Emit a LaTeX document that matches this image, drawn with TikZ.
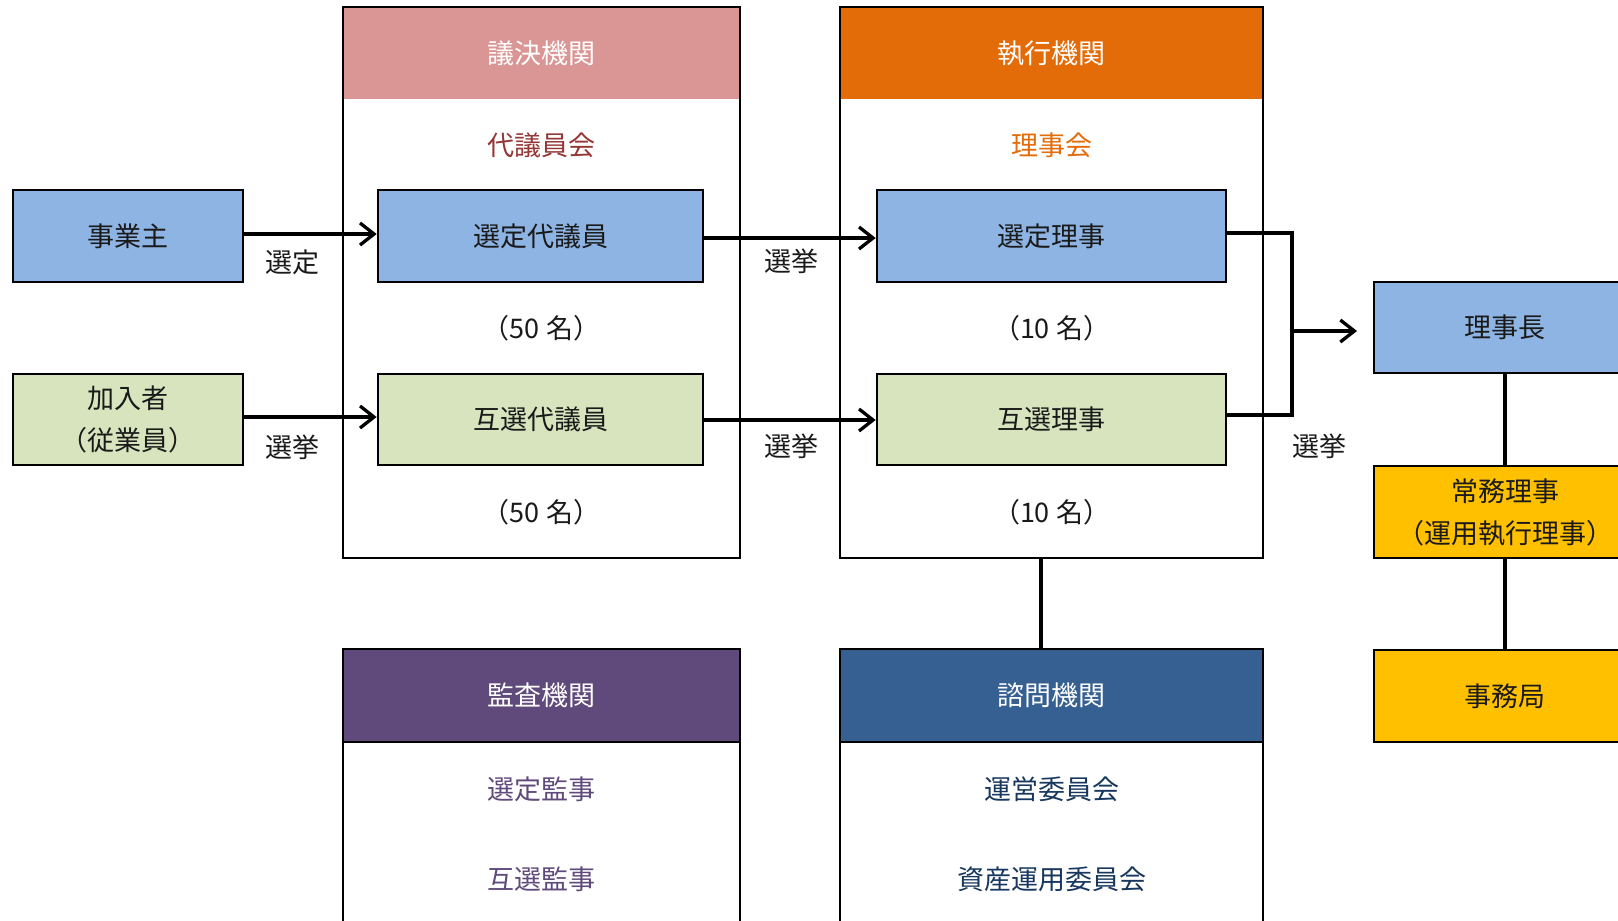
\documentclass[tikz,border=0pt]{standalone}
\usepackage{fontspec}
\setmainfont{Noto Sans CJK JP}
\usetikzlibrary{arrows.meta}
\definecolor{pinkH}{HTML}{D99694}
\definecolor{orangeH}{HTML}{E36C09}
\definecolor{purpleH}{HTML}{604A7B}
\definecolor{navyH}{HTML}{366092}
\definecolor{blueB}{HTML}{8EB4E3}
\definecolor{greenB}{HTML}{D7E4BD}
\definecolor{yellowB}{HTML}{FFC000}
\definecolor{redT}{HTML}{953735}
\definecolor{orangeT}{HTML}{E46C0A}
\definecolor{purpleT}{HTML}{604A7B}
\definecolor{navyT}{HTML}{17375E}
\definecolor{textD}{HTML}{1A1A1A}
\begin{document}
\begin{tikzpicture}[x=1pt,y=-1pt,
  txt/.style={font=\fontsize{27}{32}\selectfont, text=textD},
  box/.style={draw=black, line width=2.6pt, txt, inner sep=0pt, align=center},
  cont/.style={draw=black, line width=2pt, inner sep=0pt},
  hdr/.style={inner sep=0pt, font=\fontsize{27}{32}\selectfont, text=white},
  lab/.style={font=\fontsize{27}{32}\selectfont, text=textD, inner sep=0pt},
  arr/.style={line width=3.3pt, -{Straight Barb[length=14pt,width=22pt,line width=3.3pt]}},
  ln/.style={line width=3.3pt},
]
\useasboundingbox (0,0) rectangle (1618,921);
\fill[white] (0,0) rectangle (1618,921);

% --- top containers
\node[hdr, fill=pinkH, minimum width=397pt, minimum height=92pt] (gh) at (541.5,53) {議決機関};
\node[cont, minimum width=397pt, minimum height=551pt] (gc) at (541.5,282.5) {};
\node[lab, text=redT] (gt) at (541.5,145) {代議員会};

\node[hdr, fill=orangeH, minimum width=423pt, minimum height=92pt] (sh) at (1051.5,53) {執行機関};
\node[cont, minimum width=423pt, minimum height=551pt] (sc) at (1051.5,282.5) {};
\node[lab, text=orangeT] (st) at (1051.5,145) {理事会};

% --- bottom containers
\node[cont, minimum width=397pt, minimum height=340pt] (kc) at (541.5,819) {};
\node[hdr, draw=black, line width=2.6pt, fill=purpleH, minimum width=397pt, minimum height=93pt] (kh) at (541.5,695.5) {監査機関};
\node[lab, text=purpleT] (k1) at (541.5,789) {選定監事};
\node[lab, text=purpleT] (k2) at (541.5,879) {互選監事};

\node[cont, minimum width=423pt, minimum height=340pt] (mc) at (1051.5,819) {};
\node[hdr, draw=black, line width=2.6pt, fill=navyH, minimum width=423pt, minimum height=93pt] (mh) at (1051.5,695.5) {諮問機関};
\node[lab, text=navyT] (m1) at (1051.5,789) {運営委員会};
\node[lab, text=navyT] (m2) at (1051.5,879) {資産運用委員会};

% --- left boxes
\node[box, fill=blueB, minimum width=230pt, minimum height=92pt] (jg) at (128,236) {事業主};
\node[box, fill=greenB, minimum width=230pt, minimum height=91pt] (kn) at (128,419.5) {加入者\\[10pt]（従業員）};

% --- representatives
\node[box, fill=blueB, minimum width=325pt, minimum height=92pt] (sd) at (540.5,236) {選定代議員};
\node[box, fill=greenB, minimum width=325pt, minimum height=91pt] (gd) at (540.5,419.5) {互選代議員};
\node[lab] (n1) at (541.5,328) {（50 名）};
\node[lab] (n2) at (541.5,512) {（50 名）};

% --- directors
\node[box, fill=blueB, minimum width=349pt, minimum height=92pt] (sr) at (1051.5,236) {選定理事};
\node[box, fill=greenB, minimum width=349pt, minimum height=91pt] (gr) at (1051.5,419.5) {互選理事};
\node[lab] (n3) at (1051.5,328) {（10 名）};
\node[lab] (n4) at (1051.5,512) {（10 名）};

% --- right column
\node[box, fill=blueB, minimum width=262pt, minimum height=91pt] (rc) at (1505,327.5) {理事長};
\node[box, fill=yellowB, minimum width=262pt, minimum height=92pt] (jm) at (1505,512) {常務理事\\[10pt]（運用執行理事）};
\node[box, fill=yellowB, minimum width=262pt, minimum height=92pt] (jk) at (1505,696) {事務局};

% --- connectors
\draw[arr] (jg.east |- 0,234) -- (sd.west |- 0,234);
\draw[arr] (kn.east |- 0,417) -- (gd.west |- 0,417);
\draw[arr] (sd.east |- 0,238) -- (sr.west |- 0,238);
\draw[arr] (gd.east |- 0,420) -- (gr.west |- 0,420);
\coordinate (bt) at (1292,233);
\coordinate (bb) at (1292,415);
\coordinate (bm) at (1292,331);
\draw[ln, line join=miter] (sr.east |- bt) -- (bt) -- (bb) -- (gr.east |- bb);
\draw[arr] (bm) -- (1357,331) coordinate (ae);
\draw[ln] (rc.south) -- (jm.north);
\draw[ln] (jm.south) -- (jk.north);
\draw[ln] (1041,558) coordinate (sb) -- (1041,649) coordinate (mt);

% --- labels
\node[lab] (l1) at (292,262) {選定};
\node[lab] (l2) at (292,447) {選挙};
\node[lab] (l3) at (791,261) {選挙};
\node[lab] (l4) at (791,446) {選挙};
\node[lab] (l5) at (1319,446) {選挙};
\end{tikzpicture}
\end{document}
